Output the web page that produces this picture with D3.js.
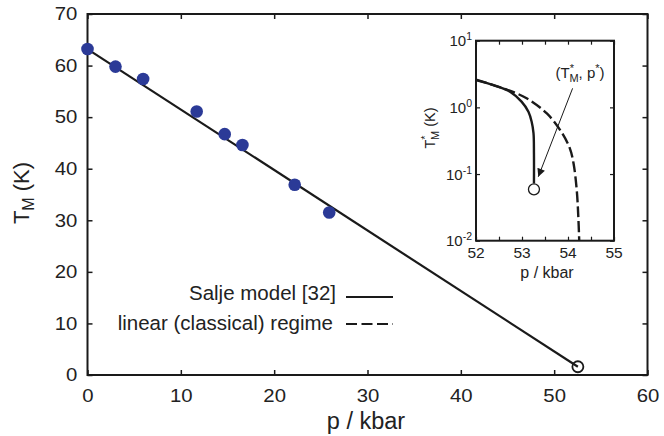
<!DOCTYPE html>
<html><head><meta charset="utf-8">
<script src="https://cdn.jsdelivr.net/npm/d3@7"></script>
<style>
body{margin:0;background:#fff;}
text{font-family:"Liberation Sans",Arial,Helvetica,sans-serif;fill:#222;}
</style></head>
<body><svg id="c" width="664" height="436"></svg>
<script>
// Main data: measured points
const pressure = [0, 3.0, 5.96, 11.7, 14.7, 16.6, 22.2, 25.9];
const tempM    = [63.2, 59.8, 57.4, 51.1, 46.7, 44.6, 36.9, 31.5];
// Salje model line in main plot (endpoints)
const modelP = [0, 52.54];
const modelT = [63.2, 1.6];
const endPoint = {p: 52.54, t: 1.6};
const xTicks = [0, 10, 20, 30, 40, 50, 60];
const yTicks = [0, 10, 20, 30, 40, 50, 60, 70];
// Inset curves
const insetSolidP = [52.0, 52.38, 52.74, 52.99, 53.14, 53.21, 53.25, 53.26, 53.26];
const insetSolidT = [2.57, 2.16, 1.72, 1.22, 0.86, 0.61, 0.41, 0.2, 0.072];
const insetDashP = [52.0, 52.59, 53.10, 53.54, 53.83, 54.04, 54.12, 54.19, 54.224, 54.244];
const insetDashT = [2.6, 1.93, 1.37, 0.81, 0.457, 0.243, 0.145, 0.0575, 0.023, 0.01];
const insetStar = {p: 53.26, t: 0.059};
const insetXTicks = [52, 52.5, 53, 53.5, 54, 54.5, 55];
const insetXLabels = [52, 53, 54, 55];
const insetYExp = [1, 0, -1, -2];
const arrowFrom = {p: 54.10, t: 1.93};
const arrowTo = {p: 53.354, t: 0.091};

const svg = d3.select("#c");
const x = d3.scaleLinear().domain([0, 60]).range([87.5, 647.5]);
const y = d3.scaleLinear().domain([0, 70]).range([375, 14]);
const ink = "#1a1a1a";

// frame
svg.append("rect").attr("x", x(0)).attr("y", y(70)).attr("width", x(60)-x(0)).attr("height", y(0)-y(70))
  .attr("fill", "none").attr("stroke", ink).attr("stroke-width", 2);

function styleAxis(g, labels) {
  g.select(".domain").remove();
  g.selectAll(".tick line").attr("stroke", ink).attr("stroke-width", 1.5);
  if (!labels) g.selectAll(".tick text").remove();
}
const fs = 18;
const sx = 1.13;
svg.append("g").attr("transform", `translate(0,${y(0)})`)
  .call(d3.axisBottom(x).tickValues(xTicks).tickSize(-5).tickPadding(14).tickFormat(d3.format("d")))
  .call(g => styleAxis(g, true))
  .selectAll("text").attr("font-size", fs).attr("fill", "#222").attr("transform", `scale(${sx},1)`);
svg.append("g").attr("transform", `translate(0,${y(70)})`)
  .call(d3.axisTop(x).tickValues(xTicks).tickSize(-5)).call(g => styleAxis(g, false));
svg.append("g").attr("transform", `translate(${x(0)},0)`)
  .call(d3.axisLeft(y).tickValues(yTicks).tickSize(-5).tickPadding(9).tickFormat(d3.format("d")))
  .call(g => styleAxis(g, true))
  .selectAll("text").attr("font-size", fs).attr("fill", "#222").attr("transform", `scale(${sx},1)`);
svg.append("g").attr("transform", `translate(${x(60)},0)`)
  .call(d3.axisRight(y).tickValues(yTicks).tickSize(-5)).call(g => styleAxis(g, false));

// axis titles
svg.append("text").attr("x", 366).attr("y", 429).attr("text-anchor", "middle").attr("font-size", 23.5).text("p / kbar");
const yt = svg.append("text").attr("transform", "translate(29,193) rotate(-90)").attr("text-anchor", "middle").attr("font-size", 22);
yt.append("tspan").text("T");
yt.append("tspan").attr("font-size", 16).attr("dy", 5).text("M");
yt.append("tspan").attr("dy", -5).text(" (K)");

// model line
const line = d3.line().x(d => x(d[0])).y(d => y(d[1]));
svg.append("path").datum(modelP.map((p, i) => [p, modelT[i]])).attr("d", line)
  .attr("fill", "none").attr("stroke", ink).attr("stroke-width", 2.2);
// data points
svg.append("g").selectAll("circle").data(pressure.map((p, i) => [p, tempM[i]])).join("circle")
  .attr("cx", d => x(d[0])).attr("cy", d => y(d[1])).attr("r", 6.3).attr("fill", "#2b3a97");
// end circle
svg.append("circle").attr("cx", x(endPoint.p)).attr("cy", y(endPoint.t)).attr("r", 5.5)
  .attr("fill", "none").attr("stroke", ink).attr("stroke-width", 1.8);

// legend
const lg = svg.append("g");
lg.append("text").attr("x", 336).attr("y", 300).attr("text-anchor", "end").attr("font-size", 20.5).text("Salje model [32]");
lg.append("line").attr("x1", 346).attr("x2", 393).attr("y1", 297).attr("y2", 297).attr("stroke", ink).attr("stroke-width", 2.2);
lg.append("text").attr("x", 333).attr("y", 330).attr("text-anchor", "end").attr("font-size", 20.5).text("linear (classical) regime");
lg.append("line").attr("x1", 346).attr("x2", 393).attr("y1", 324).attr("y2", 324).attr("stroke", ink).attr("stroke-width", 2.2)
  .attr("stroke-dasharray", "11,4.5");

// ===== inset =====
const ix = d3.scaleLinear().domain([52, 55]).range([476, 614]);
const iy = d3.scaleLog().domain([0.01, 10]).range([240.7, 40.7]);
const ins = svg.append("g");
ins.append("rect").attr("x", ix(52)).attr("y", iy(10)).attr("width", ix(55)-ix(52)).attr("height", iy(0.01)-iy(10))
  .attr("fill", "#fff").attr("stroke", ink).attr("stroke-width", 2);
ins.append("g").attr("transform", `translate(0,${iy(0.01)})`)
  .call(d3.axisBottom(ix).tickValues(insetXTicks).tickSize(-4).tickFormat("")).call(g => styleAxis(g, false));
ins.append("g").attr("transform", `translate(0,${iy(10)})`)
  .call(d3.axisTop(ix).tickValues(insetXTicks).tickSize(-4).tickFormat("")).call(g => styleAxis(g, false));
ins.append("g").attr("transform", `translate(${ix(52)},0)`)
  .call(d3.axisLeft(iy).tickValues(insetYExp.map(e => Math.pow(10, e))).tickSize(-4).tickFormat("")).call(g => styleAxis(g, false));
ins.append("g").attr("transform", `translate(${ix(55)},0)`)
  .call(d3.axisRight(iy).tickValues(insetYExp.map(e => Math.pow(10, e))).tickSize(-4).tickFormat("")).call(g => styleAxis(g, false));
ins.selectAll(".tick line").attr("stroke-width", 1.2);
// inset labels
ins.selectAll("text.xl").data(insetXLabels).join("text").attr("class", "xl")
  .attr("x", d => ix(d)).attr("y", 258).attr("text-anchor", "middle").attr("font-size", 15.5).text(d => d);
insetYExp.forEach(e => {
  const t = ins.append("text").attr("x", 472).attr("y", iy(Math.pow(10, e)) + 5.5).attr("text-anchor", "end").attr("font-size", 15);
  t.append("tspan").text("10");
  t.append("tspan").attr("font-size", 10.5).attr("dy", -6).text(e);
});
ins.append("text").attr("x", 547).attr("y", 278).attr("text-anchor", "middle").attr("font-size", 16).text("p / kbar");
const iyt = ins.append("text").attr("transform", "translate(435,128) rotate(-90)").attr("text-anchor", "middle").attr("font-size", 14.5);
iyt.append("tspan").text("T");
iyt.append("tspan").attr("font-size", 11).attr("dy", -6).text("*");
iyt.append("tspan").attr("font-size", 11).attr("dx", -4.5).attr("dy", 10).text("M");
iyt.append("tspan").attr("dy", -4).text(" (K)");

ins.append("path").datum(insetDashP.map((p, i) => [p, insetDashT[i]]))
  .attr("d", d3.line().x(d => ix(d[0])).y(d => iy(d[1])).curve(d3.curveCatmullRom))
  .attr("fill", "none").attr("stroke", ink).attr("stroke-width", 2.4).attr("stroke-dasharray", "11,4");
ins.append("path").datum(insetSolidP.map((p, i) => [p, insetSolidT[i]]))
  .attr("d", d3.line().x(d => ix(d[0])).y(d => iy(d[1])).curve(d3.curveCatmullRom))
  .attr("fill", "none").attr("stroke", ink).attr("stroke-width", 2.4);
ins.append("circle").attr("cx", ix(insetStar.p)).attr("cy", iy(insetStar.t)).attr("r", 5.5)
  .attr("fill", "#fff").attr("stroke", ink).attr("stroke-width", 1.3);

// arrow
const defs = svg.append("defs");
defs.append("marker").attr("id", "ah").attr("viewBox", "0 0 10 10").attr("refX", 10).attr("refY", 5)
  .attr("markerWidth", 10).attr("markerHeight", 8).attr("markerUnits", "userSpaceOnUse").attr("orient", "auto")
  .append("path").attr("d", "M0,0 L10,5 L0,10 Z").attr("fill", ink);
ins.append("line").attr("x1", ix(arrowFrom.p)).attr("y1", iy(arrowFrom.t)).attr("x2", ix(arrowTo.p)).attr("y2", iy(arrowTo.t))
  .attr("stroke", ink).attr("stroke-width", 1).attr("marker-end", "url(#ah)");
const lab = ins.append("text").attr("x", 580).attr("y", 78).attr("text-anchor", "middle").attr("font-size", 15);
lab.append("tspan").text("(T");
lab.append("tspan").attr("font-size", 11).attr("dy", -6).text("*");
lab.append("tspan").attr("font-size", 11).attr("dx", -4.5).attr("dy", 10).text("M");
lab.append("tspan").attr("dy", -4).text(", p");
lab.append("tspan").attr("font-size", 11).attr("dy", -6).text("*");
lab.append("tspan").attr("dy", 6).text(")");
</script></body></html>
